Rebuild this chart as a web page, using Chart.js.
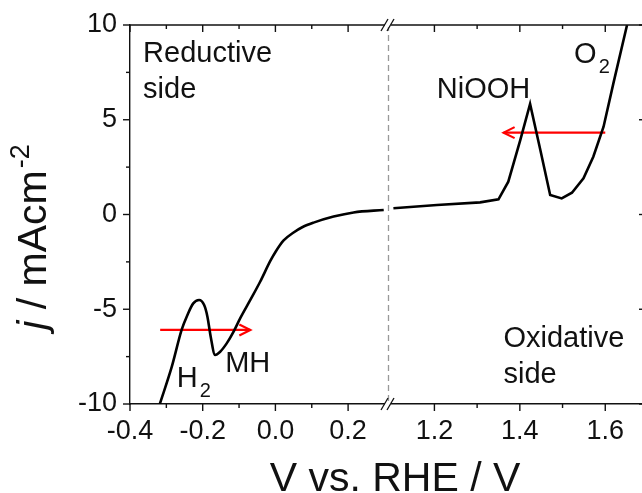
<!DOCTYPE html>
<html><head><meta charset="utf-8">
<script src="https://cdn.jsdelivr.net/npm/chart.js@4.4.1/dist/chart.umd.min.js"></script>
<style>html,body{margin:0;padding:0;background:#fff}#c{display:block}</style>
</head><body>
<canvas id="c" width="642" height="493"></canvas>
<script>
// ---- data (V vs RHE, j in mA cm^-2) ----
const leftV  = [-0.318, -0.285, -0.258, -0.242, -0.226, -0.210, -0.196, -0.187, -0.178, -0.166, -0.152, -0.134, -0.115, -0.097, -0.069, -0.042, -0.014, 0.001, 0.022, 0.050, 0.075, 0.105, 0.160, 0.215, 0.298];
const leftJ  = [-10.0, -8.03, -6.09, -5.30, -4.69, -4.51, -4.78, -5.39, -6.45, -7.41, -7.24, -6.80, -6.18, -5.48, -4.51, -3.55, -2.45, -1.95, -1.38, -0.95, -0.66, -0.43, -0.11, 0.11, 0.24];
const rightV = [1.104, 1.206, 1.307, 1.350, 1.373, 1.401, 1.424, 1.448, 1.471, 1.498, 1.522, 1.549, 1.572, 1.596, 1.619, 1.651];
const rightJ = [0.33, 0.50, 0.64, 0.80, 1.73, 3.93, 5.83, 3.40, 1.03, 0.85, 1.15, 1.91, 3.05, 4.63, 6.92, 10.0];
const arrowLeftV  = [-0.317, -0.069];
const arrowLeftJ  = [-6.09, -6.09];
const arrowRightV = [1.600, 1.362];
const arrowRightJ = [4.32, 4.32];
const xLeftMajor  = [-0.4, -0.2, 0.0, 0.2];
const xLeftMinor  = [-0.3, -0.1, 0.1];
const xRightMajor = [1.2, 1.4, 1.6];
const xRightMinor = [1.3, 1.5];
const yMajor = [-10, -5, 0, 5, 10];
const yMinor = [-7.5, -2.5, 2.5, 7.5];
const xLeftRange  = [-0.4, 0.307];
const xRightRange = [1.089, 1.686];
const yRange = [-10, 10];
const breakV = 1.0925;
const notes = [
  {t:'Reductive', ax:'xL', v:-0.364, j:8.06},
  {t:'side',      ax:'xL', v:-0.364, j:6.16},
  {t:'Oxidative', ax:'xR', v:1.3616, j:-6.98},
  {t:'side',      ax:'xR', v:1.3616, j:-8.91},
  {t:'NiOOH',     ax:'xR', v:1.2056, j:6.13},
  {t:'O', sub:'2', ax:'xR', v:1.527, j:8.01},
  {t:'H', sub:'2', ax:'xL', v:-0.2714, j:-9.09},
  {t:'MH',        ax:'xL', v:-0.1383, j:-8.30}
];

const FONT = '"Liberation Sans", Arial, sans-serif';
const pts = (xs, ys) => xs.map((x, i) => ({x, y: ys[i]}));

const decor = {
  id: 'decor',
  afterDraw(chart) {
    const {ctx, chartArea: a, scales} = chart;
    const xL = scales.xL, xR = scales.xR, y = scales.y;
    ctx.save();
    // dashed break line
    const bx = xR.getPixelForValue(breakV);
    ctx.strokeStyle = '#999'; ctx.lineWidth = 1.3; ctx.setLineDash([6, 4]);
    ctx.beginPath(); ctx.moveTo(bx, a.top); ctx.lineTo(bx, a.bottom); ctx.stroke();
    ctx.setLineDash([]);
    // top axis line
    ctx.strokeStyle = '#111'; ctx.lineWidth = 1.4;
    ctx.beginPath(); ctx.moveTo(a.left, a.top); ctx.lineTo(a.right, a.top); ctx.stroke();
    // ticks
    const tick = (x1, y1, x2, y2) => { ctx.beginPath(); ctx.moveTo(x1, y1); ctx.lineTo(x2, y2); ctx.stroke(); };
    const xt = (sc, vals, len) => vals.forEach(v => {
      const p = sc.getPixelForValue(v);
      tick(p, a.bottom, p, a.bottom + len);
      tick(p, a.top, p, a.top + len);
    });
    xt(xL, xLeftMajor, 7); xt(xL, xLeftMinor, 4);
    xt(xR, xRightMajor, 7); xt(xR, xRightMinor, 4);
    yMajor.forEach(v => { const p = y.getPixelForValue(v); tick(a.left - 7, p, a.left, p); tick(a.right - 3, p, a.right, p); });
    yMinor.forEach(v => { const p = y.getPixelForValue(v); tick(a.left - 4, p, a.left, p); });
    // axis break marks
    const bm = xL.right;
    [a.top, a.bottom].forEach(yy => {
      ctx.fillStyle = '#fff'; ctx.fillRect(bm - 2, yy - 2, 6, 4);
      ctx.strokeStyle = '#111'; ctx.lineWidth = 1.3;
      [bm - 2.5, bm + 3.5].forEach(c => tick(c - 3.5, yy + 6, c + 3.5, yy - 6));
    });
    // arrow heads
    const head = (sc, vs, js) => {
      const x1 = sc.getPixelForValue(vs[0]), x2 = sc.getPixelForValue(vs[1]);
      const yy = y.getPixelForValue(js[1]);
      const d = Math.sign(x2 - x1);
      ctx.strokeStyle = '#ff0000'; ctx.lineWidth = 2.2;
      ctx.beginPath(); ctx.moveTo(x2 - d * 11, yy - 5.5); ctx.lineTo(x2, yy); ctx.lineTo(x2 - d * 11, yy + 5.5); ctx.stroke();
    };
    head(xL, arrowLeftV, arrowLeftJ); head(xR, arrowRightV, arrowRightJ);
    // annotations
    ctx.fillStyle = '#111'; ctx.textAlign = 'left'; ctx.textBaseline = 'alphabetic';
    notes.forEach(n => {
      const sc = scales[n.ax];
      const px = sc.getPixelForValue(n.v), py = y.getPixelForValue(n.j);
      ctx.font = '29px ' + FONT;
      ctx.fillText(n.t, px, py);
      if (n.sub) {
        const w = ctx.measureText(n.t).width;
        ctx.font = '20px ' + FONT;
        ctx.fillText(n.sub, px + w + 2, py + 10);
      }
    });
    // x title
    ctx.font = '41px ' + FONT; ctx.textAlign = 'center';
    ctx.fillText('V vs. RHE / V', 395, 491);
    // y title
    ctx.save();
    ctx.translate(46, 237);
    ctx.rotate(-Math.PI / 2);
    ctx.textAlign = 'left';
    const f1 = 'italic 41px ' + FONT, f2 = '41px ' + FONT, f3 = '27px ' + FONT;
    ctx.font = f1; const w1 = ctx.measureText('j').width;
    ctx.font = f2; const w2 = ctx.measureText(' / mAcm').width;
    ctx.font = f3; const w3 = ctx.measureText('-2').width;
    let x0 = -(w1 + w2 + w3 + 2) / 2;
    ctx.font = f1; ctx.fillText('j', x0, 0); x0 += w1;
    ctx.font = f2; ctx.fillText(' / mAcm', x0, 0); x0 += w2 + 2;
    ctx.font = f3; ctx.fillText('-2', x0, -17);
    ctx.restore();
    ctx.restore();
  }
};

const tickFont = {family: FONT, size: 27, lineHeight: 1};
const hideGrid = {display: false, drawTicks: false};
const border = {display: true, color: '#111', width: 1.4};
const noPad = s => { s.paddingLeft = 0; s.paddingRight = 0; s.paddingTop = 0; s.paddingBottom = 0; };

new Chart(document.getElementById('c'), {
  type: 'line',
  data: {
    datasets: [
      {data: pts(leftV, leftJ), xAxisID: 'xL', yAxisID: 'y', borderColor: '#000', borderWidth: 2.6, pointRadius: 0, cubicInterpolationMode: 'monotone', fill: false},
      {data: pts(rightV, rightJ), xAxisID: 'xR', yAxisID: 'y', borderColor: '#000', borderWidth: 2.6, pointRadius: 0, tension: 0, fill: false},
      {data: pts(arrowLeftV, arrowLeftJ), xAxisID: 'xL', yAxisID: 'y', borderColor: '#ff0000', borderWidth: 2.2, pointRadius: 0, fill: false},
      {data: pts(arrowRightV, arrowRightJ), xAxisID: 'xR', yAxisID: 'y', borderColor: '#ff0000', borderWidth: 2.2, pointRadius: 0, fill: false}
    ]
  },
  options: {
    responsive: false, animation: false, devicePixelRatio: 1,
    layout: {padding: {top: 25, left: 0, right: 0, bottom: 0}},
    plugins: {legend: {display: false}, tooltip: {enabled: false}, title: {display: false}},
    scales: {
      xL: {type: 'linear', position: 'bottom', stack: 'x', stackWeight: 257, weight: 0,
        min: xLeftRange[0], max: xLeftRange[1],
        afterBuildTicks: s => { s.ticks = xLeftMajor.map(v => ({value: v})); },
        afterFit: s => { s.height = 89; noPad(s); },
        ticks: {autoSkip: false, maxRotation: 0, padding: 14, color: '#111', font: tickFont, callback: v => v.toFixed(1)},
        grid: hideGrid, border: border},
      xR: {type: 'linear', position: 'bottom', stack: 'x', stackWeight: 255, weight: 1,
        min: xRightRange[0], max: xRightRange[1],
        afterBuildTicks: s => { s.ticks = xRightMajor.map(v => ({value: v})); },
        afterFit: s => { s.height = 89; noPad(s); },
        ticks: {autoSkip: false, maxRotation: 0, padding: 14, color: '#111', font: tickFont, callback: v => v.toFixed(1)},
        grid: hideGrid, border: border},
      y: {type: 'linear', position: 'left', min: yRange[0], max: yRange[1],
        afterBuildTicks: s => { s.ticks = yMajor.map(v => ({value: v})); },
        afterFit: s => { s.width = 130; noPad(s); },
        ticks: {autoSkip: false, padding: 13, color: '#111', font: tickFont, callback: v => String(v)},
        grid: hideGrid, border: border}
    }
  },
  plugins: [decor]
});
</script>
</body></html>
